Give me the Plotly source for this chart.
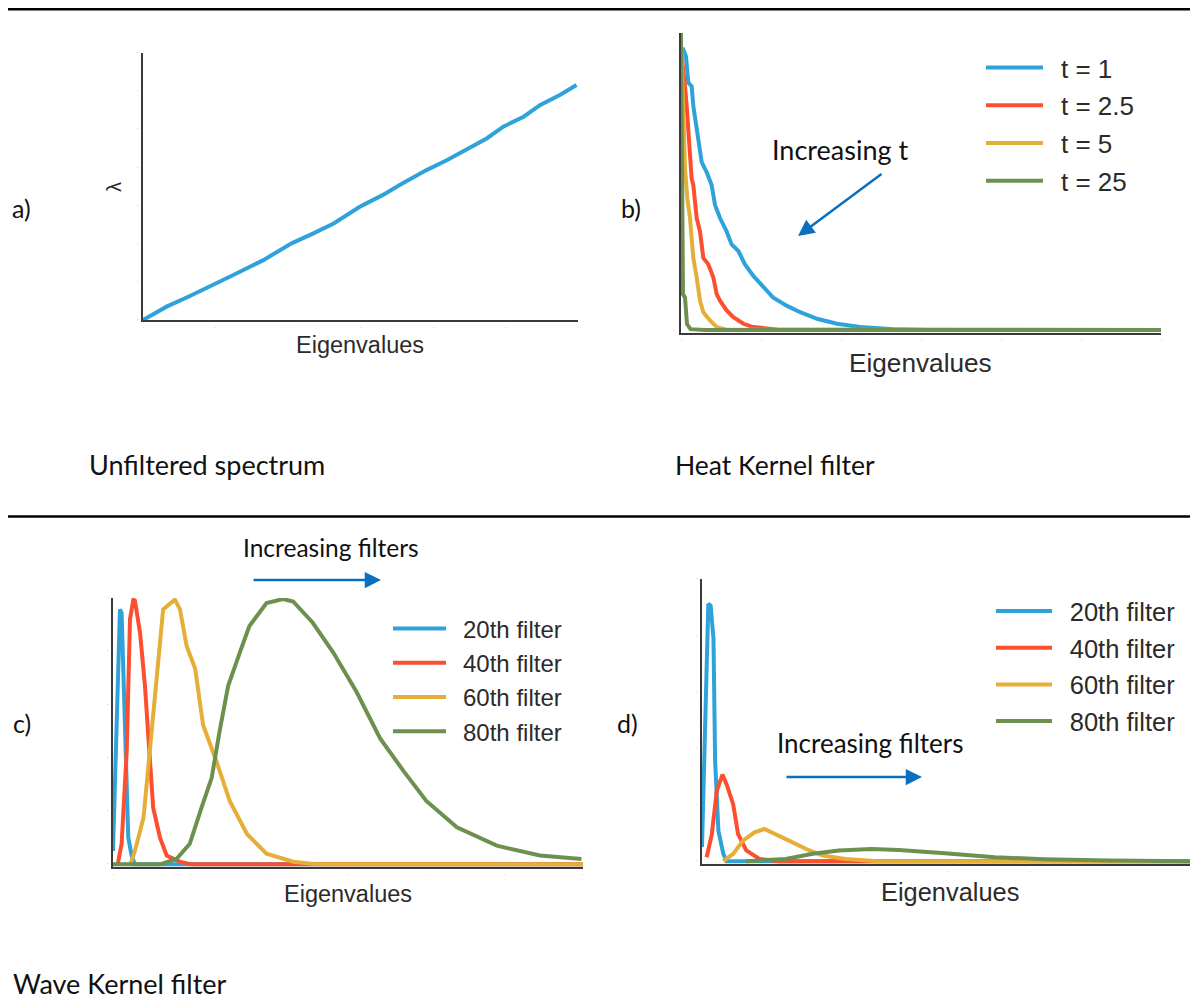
import plotly.graph_objects as go

# ---------------- data ----------------
# a) unfiltered spectrum
spec_x = [0, 3.26, 6.25, 10.16, 12.46, 16.6, 20.5, 23.5, 26.3, 29.9, 33.1, 35.4, 39.1,
          41.9, 44.6, 47.4, 49.7, 52.5, 54.8, 57.5, 59.8]
spec_y = [0, 0.35, 0.61, 0.96, 1.18, 1.57, 2.01, 2.27, 2.53, 2.97, 3.28, 3.54, 3.93,
          4.19, 4.46, 4.76, 5.07, 5.33, 5.64, 5.90, 6.16]

# b) heat kernel filter
heat_labels = ["t = 1", "t = 2.5", "t = 5", "t = 25"]
heat_t1_x = [0.2, 0.375, 0.625, 0.92, 1.33, 1.54, 1.875, 2.29, 2.58, 3.2, 3.83, 4.25, 4.875,
             5.7, 6.33, 7.17, 8.0, 9.04, 10.3, 11.5, 13.2, 14.9, 17.0, 19.5, 22.4, 26.5, 30.7, 60]
heat_t1_y = [0.95, 0.938, 0.921, 0.832, 0.821, 0.754, 0.688, 0.599, 0.566, 0.532, 0.488, 0.421,
             0.377, 0.332, 0.288, 0.266, 0.221, 0.182, 0.143, 0.110, 0.082, 0.060, 0.038, 0.021,
             0.010, 0.003, 0.0, 0.0]
heat_t2_x = [0.05, 0.21, 0.5, 0.71, 1.04, 1.33, 1.54, 1.96, 2.375, 2.79, 3.42, 4.04, 4.46, 4.875,
             5.71, 6.54, 7.8, 9.04, 12.0, 60]
heat_t2_y = [0.93, 0.877, 0.821, 0.754, 0.643, 0.51, 0.488, 0.377, 0.332, 0.243, 0.221, 0.177,
             0.121, 0.099, 0.066, 0.043, 0.021, 0.010, 0.002, 0.0]
heat_t5_x = [0.05, 0.125, 0.29, 0.5, 0.79, 1.125, 1.33, 1.54, 1.96, 2.375, 2.79, 3.625, 4.46, 5.7, 60]
heat_t5_y = [0.95, 0.877, 0.732, 0.543, 0.443, 0.377, 0.31, 0.243, 0.177, 0.099, 0.060, 0.032,
             0.010, 0.001, 0.0]
heat_t25_x = [0.0, 0.15, 0.25, 0.5, 0.75, 1.2, 3.0, 60]
heat_t25_y = [1.0, 0.6, 0.12, 0.11, 0.02, 0.003, 0.0, 0.0]

# c) wave kernel filter
wave_labels = ["20th filter", "40th filter", "60th filter", "80th filter"]
wc_20_x = [0.0, 0.2, 0.68, 0.89, 1.1, 1.53, 1.75, 1.95, 2.4, 2.8, 60]
wc_20_y = [0.05, 0.26, 0.67, 0.957, 0.944, 0.548, 0.35, 0.10, 0.03, 0.0, 0.0]
wc_40_x = [0.6, 1.1, 1.75, 2.17, 2.6, 2.8, 3.45, 4.08, 4.5, 5.13, 6.0, 6.85, 8.5, 10.0, 60]
wc_40_y = [0.0, 0.077, 0.424, 0.92, 0.994, 0.99, 0.87, 0.67, 0.486, 0.213, 0.10, 0.033, 0.01, 0.0, 0.0]
wc_60_x = [2.2, 2.8, 3.9, 4.7, 5.5, 6.4, 7.9, 8.55, 9.4, 10.5, 11.5, 13.2, 14.9, 17.1, 19.6, 23.0,
           26.0, 60]
wc_60_y = [0.0, 0.05, 0.176, 0.424, 0.647, 0.957, 0.994, 0.957, 0.82, 0.733, 0.523, 0.387, 0.238,
           0.114, 0.04, 0.01, 0.0, 0.0]
wc_80_x = [0.0, 6.0, 8.1, 9.8, 11.3, 12.6, 13.6, 14.7, 16.2, 17.4, 19.6, 21.7, 23.0, 25.5, 28.1,
           31.1, 34.1, 37.1, 40.0, 43.9, 49.0, 54.5, 59.8]
wc_80_y = [0.0, 0.0, 0.02, 0.077, 0.213, 0.325, 0.498, 0.67, 0.796, 0.894, 0.981, 0.996, 0.987,
           0.907, 0.796, 0.647, 0.473, 0.35, 0.238, 0.139, 0.07, 0.033, 0.02]

# d) wave kernel filter (normalised)
wd_20_x = [0.0, 0.16, 0.57, 0.77, 1.05, 1.4, 1.6, 2.0, 2.6, 3.0, 60]
wd_20_y = [0.05, 0.26, 0.648, 0.912, 0.906, 0.789, 0.355, 0.108, 0.026, 0.0, 0.0]
wd_40_x = [0.57, 1.2, 1.8, 2.5, 3.0, 3.8, 4.4, 5.4, 7.0, 9.4, 60]
wd_40_y = [0.014, 0.096, 0.249, 0.307, 0.272, 0.202, 0.096, 0.038, 0.008, 0.0, 0.0]
wd_60_x = [2.6, 3.8, 5.0, 6.4, 7.6, 9.0, 10.6, 12.7, 14.7, 17.5, 21.5, 60]
wd_60_y = [0.0, 0.026, 0.073, 0.102, 0.114, 0.096, 0.073, 0.043, 0.02, 0.008, 0.0, 0.0]
wd_80_x = [5.4, 10.2, 13.5, 16.7, 20.7, 24.0, 29.6, 35.7, 41.7, 49.7, 60]
wd_80_y = [0.0, 0.008, 0.026, 0.038, 0.043, 0.04, 0.028, 0.014, 0.007, 0.002, 0.0]

x_ticks = [0, 10, 20, 30, 40, 50, 60]

# ---------------- style ----------------
PAGE_OFF = 8            # default body margin of the html page
W, H = 1198 - PAGE_OFF, 999 - PAGE_OFF
COLORS = ["#30a2da", "#fc4f30", "#e5ae38", "#6d904f"]
LW = 4
CHART_FONT = "Liberation Sans, Arial, sans-serif"
NOTE_FONT = "Lato, sans-serif"
TXT = "#2b2b2b"
GAP = "\u2002"  # en space between legend line and label


def px(v):
    return (v - PAGE_OFF) / W


def py(v):
    return 1 - (v - PAGE_OFF) / H


fig = go.Figure()

# a)
fig.add_trace(go.Scatter(x=spec_x, y=spec_y, mode="lines", line=dict(color=COLORS[0], width=LW),
                         showlegend=False, xaxis="x", yaxis="y"))

# b)
heat_series = [(heat_t1_x, heat_t1_y), (heat_t2_x, heat_t2_y), (heat_t5_x, heat_t5_y),
               (heat_t25_x, heat_t25_y)]
for i, (xs, ys) in enumerate(heat_series):
    fig.add_trace(go.Scatter(x=xs, y=ys, mode="lines", name=GAP + heat_labels[i], legend="legend",
                             legendgroup="b%d" % i,
                             line=dict(color=COLORS[i], width=LW), xaxis="x2", yaxis="y2"))

# c)
wc_series = [(wc_20_x, wc_20_y), (wc_40_x, wc_40_y), (wc_60_x, wc_60_y), (wc_80_x, wc_80_y)]
for i, (xs, ys) in enumerate(wc_series):
    fig.add_trace(go.Scatter(x=xs, y=ys, mode="lines", name=GAP + wave_labels[i], legend="legend2",
                             legendgroup="c%d" % i,
                             line=dict(color=COLORS[i], width=LW), xaxis="x3", yaxis="y3"))

# d)
wd_series = [(wd_20_x, wd_20_y), (wd_40_x, wd_40_y), (wd_60_x, wd_60_y), (wd_80_x, wd_80_y)]
for i, (xs, ys) in enumerate(wd_series):
    fig.add_trace(go.Scatter(x=xs, y=ys, mode="lines", name=GAP + wave_labels[i], legend="legend3",
                             legendgroup="d%d" % i,
                             line=dict(color=COLORS[i], width=LW), xaxis="x4", yaxis="y4"))


def xaxis(dom, anchor):
    return dict(domain=dom, anchor=anchor, range=[0, 60], showgrid=False, zeroline=False,
                showline=True, linecolor="#3a3a3a", linewidth=2, ticks="",
                tickmode="array", tickvals=x_ticks, ticktext=["·"] * len(x_ticks),
                tickfont=dict(color="#c8c8c8", size=8), ticklabelstandoff=-2,
                fixedrange=True)


def yaxis(dom, anchor, rng, vals):
    return dict(domain=dom, anchor=anchor, range=rng, showgrid=False, zeroline=False,
                showline=True, linecolor="#3a3a3a", linewidth=2, ticks="",
                tickmode="array", tickvals=vals, ticktext=["·"] * len(vals),
                tickfont=dict(color="#c8c8c8", size=9), fixedrange=True)


fig.update_layout(
    width=W, height=H, margin=dict(l=0, r=0, t=0, b=0, autoexpand=False),
    paper_bgcolor="white", plot_bgcolor="white",
    xaxis=xaxis([px(143), px(578)], "y"),
    yaxis=yaxis([py(320), py(53)], "x", [0, 7], [0, 1, 2, 3, 4, 5, 6, 7]),
    xaxis2=xaxis([px(681), px(1161)], "y2"),
    yaxis2=yaxis([py(333), py(33)], "x2", [-0.01, 1.0], []),
    xaxis3=xaxis([px(113), px(583)], "y3"),
    yaxis3=yaxis([py(867), py(598)], "x3", [-0.01, 1.0], [0, 0.2, 0.4, 0.6, 0.8, 1.0]),
    xaxis4=xaxis([px(702), px(1194)], "y4"),
    yaxis4=yaxis([py(864), py(579)], "x4", [-0.01, 1.0], [0, 0.2, 0.4, 0.6, 0.8, 1.0]),
    legend=dict(x=px(981), y=py(44), xanchor="left", yanchor="top", bgcolor="rgba(0,0,0,0)",
                font=dict(family=CHART_FONT, size=26, color=TXT), itemwidth=57,
                tracegroupgap=1),
    legend2=dict(x=px(388), y=py(606.5), xanchor="left", yanchor="top", bgcolor="rgba(0,0,0,0)",
                 font=dict(family=CHART_FONT, size=24, color=TXT), itemwidth=53,
                 tracegroupgap=0),
    legend3=dict(x=px(991), y=py(588), xanchor="left", yanchor="top", bgcolor="rgba(0,0,0,0)",
                 font=dict(family=CHART_FONT, size=25.5, color=TXT), itemwidth=56,
                 tracegroupgap=0.5),
    showlegend=True,
)

ann = []


def note(text, x, y, size, family=NOTE_FONT, xanchor="center", color="#111111", angle=0):
    ann.append(dict(text=text, x=px(x), y=py(y), xref="paper", yref="paper", showarrow=False,
                    xanchor=xanchor, yanchor="middle", textangle=angle,
                    font=dict(family=family, size=size, color=color)))


# panel letters and captions
note("a)", 21, 208, 25)
note("b)", 631, 208, 25)
note("c)", 22, 723, 25)
note("d)", 627, 723, 25)
note("Unfiltered spectrum", 87, 465, 27, xanchor="left")
note("Heat Kernel filter", 673, 465, 26.5, xanchor="left")
note("Wave Kernel filter", 11, 983, 27, xanchor="left")
note("Increasing t", 840, 150, 27)
note("Increasing filters", 331, 547, 24.5)
note("Increasing filters", 870, 743, 26)
# axis titles
note("Eigenvalues", 360, 345, 23.5, family=CHART_FONT, color=TXT)
note("Eigenvalues", 920, 363, 26.2, family=CHART_FONT, color=TXT)
note("Eigenvalues", 348, 894, 23.5, family=CHART_FONT, color=TXT)
note("Eigenvalues", 950, 892, 25.4, family=CHART_FONT, color=TXT)
note("λ", 114, 187, 20, family=CHART_FONT, color=TXT, angle=-90)

# arrows
ARROW = "#0a6fbf"


def arrow(hx, hy, tx, ty):
    ann.append(dict(text="", x=px(hx), y=py(hy), xref="paper", yref="paper", showarrow=True,
                    ax=tx - hx, ay=ty - hy, axref="pixel", ayref="pixel",
                    arrowhead=2, arrowsize=1.3, arrowwidth=2.5, arrowcolor=ARROW))


arrow(798, 236, 883, 173)
arrow(381, 580, 252, 580)
arrow(922, 777, 785, 777)

fig.update_layout(annotations=ann)

# separator lines
fig.update_layout(shapes=[
    dict(type="line", xref="paper", yref="paper", x0=0, x1=1, y0=py(9.3), y1=py(9.3),
         line=dict(color="black", width=2.5)),
    dict(type="line", xref="paper", yref="paper", x0=0, x1=1, y0=py(516.5), y1=py(516.5),
         line=dict(color="black", width=2.5)),
])

fig.write_html("out.html")
